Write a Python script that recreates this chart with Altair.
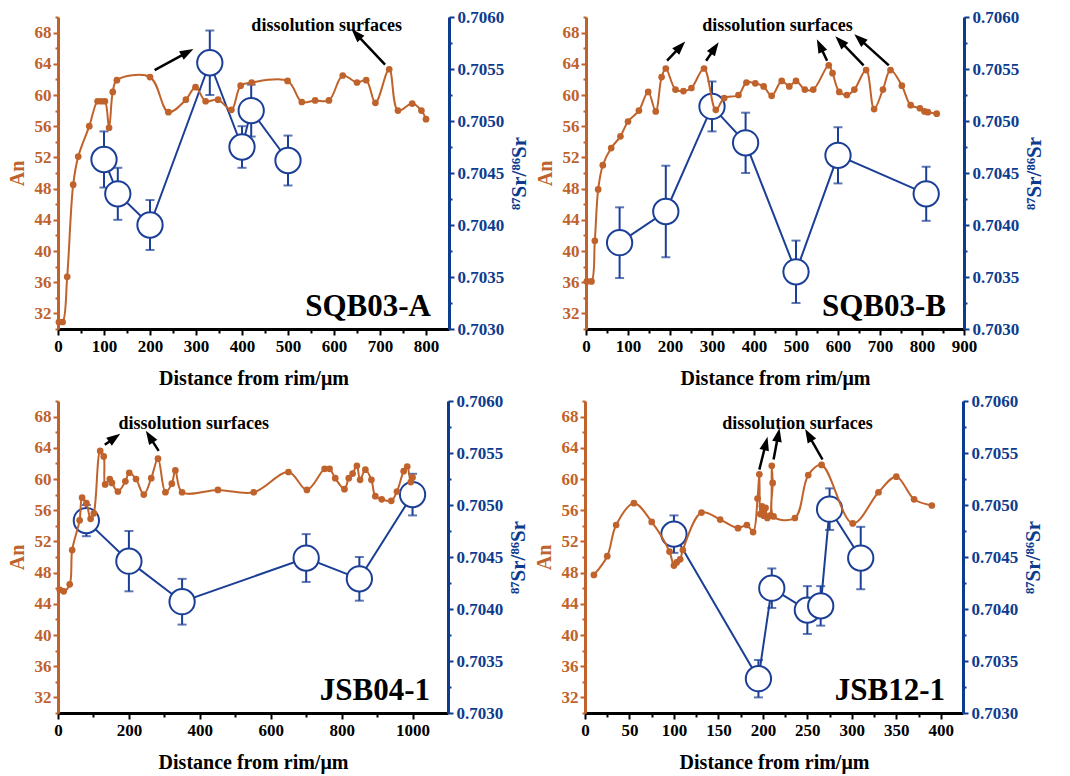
import math
import altair as alt
import pandas as pd

# ---------------- data ----------------
A_an_x = [2, 10, 20, 33, 44, 68, 86, 94, 102, 111, 119, 128, 200, 240, 278, 299, 321, 348, 377, 397,
          421, 499, 530, 559, 589, 619, 650, 670, 690, 720, 739, 770, 790, 800]
A_an_y = [30.9, 30.9, 36.7, 48.5, 52.1, 56.0, 59.2, 59.2, 59.2, 55.8, 60.4, 61.9, 62.3, 57.8, 59.4, 61.0,
          59.2, 59.4, 58.1, 61.2, 61.6, 61.8, 59.1, 59.3, 59.3, 62.5, 61.6, 61.9, 59.0, 63.3, 58.0, 58.9,
          58.0, 56.9]
A_sr_x = [100, 130, 200, 330, 400, 420, 500]
A_sr_y = [0.70463, 0.70430, 0.70400, 0.70556, 0.70475, 0.70510, 0.70462]
A_sr_e = [0.00027, 0.00025, 0.00024, 0.00031, 0.00020, 0.00025, 0.00024]

B_an_x = [2, 13, 21, 29, 40, 60, 82, 100, 126, 148, 166, 180, 190, 213, 232, 251, 281, 309, 329, 363,
          382, 403, 423, 442, 466, 484, 500, 521, 541, 578, 587, 603, 621, 639, 667, 686, 707, 725, 752,
          773, 795, 806, 814, 835]
B_an_y = [36.1, 36.1, 41.3, 47.9, 51.0, 53.2, 54.7, 56.6, 58.0, 60.4, 57.9, 62.3, 63.4, 60.7, 60.5, 60.9,
          63.4, 58.1, 59.6, 60.0, 61.6, 61.5, 61.1, 59.9, 61.8, 61.1, 61.8, 60.7, 60.7, 63.8, 62.8, 60.4,
          60.0, 60.7, 63.2, 58.2, 60.7, 63.2, 61.2, 58.7, 58.3, 57.9, 57.8, 57.6]
B_sr_x = [80, 190, 300, 380, 500, 600, 810]
B_sr_y = [0.70383, 0.70413, 0.70514, 0.70479, 0.70355, 0.70467, 0.70430]
B_sr_e = [0.00034, 0.00044, 0.00024, 0.00029, 0.00030, 0.00027, 0.00026]

C_an_x = [5, 16, 33, 40, 61, 68, 80, 92, 101, 119, 129, 133, 146, 152, 169, 190, 201, 220, 242, 263,
          282, 303, 321, 331, 350, 451, 552, 650, 702, 752, 766, 782, 808, 820, 831, 843, 852, 867, 884,
          895, 913, 940, 956, 975, 985, 995, 1000]
C_an_y = [45.8, 45.6, 46.5, 50.9, 54.7, 57.6, 56.9, 54.9, 55.6, 63.6, 62.9, 59.3, 60.0, 59.5, 58.4, 59.7,
          60.8, 60.0, 58.0, 60.1, 62.6, 58.3, 59.4, 61.1, 58.3, 58.6, 58.3, 60.9, 58.6, 61.3, 61.3, 60.1,
          58.7, 60.1, 60.7, 61.7, 59.9, 61.2, 59.9, 57.8, 57.4, 57.2, 58.4, 61.0, 61.6, 59.6, 60.2]
C_sr_x = [80, 200, 350, 700, 850, 1000]
C_sr_y = [0.70485, 0.70446, 0.70407, 0.70449, 0.70429, 0.70510]
C_sr_e = [0.00015, 0.00029, 0.00022, 0.00023, 0.00021, 0.00020]

D_an_x = [10, 25, 35, 55, 75, 95, 100, 103, 107, 110, 131, 152, 172, 182, 189, 194, 196, 197, 199, 201,
          203, 205, 208, 210, 211, 212, 236, 251, 266, 301, 330, 350, 370, 390]
D_an_y = [47.7, 50.1, 54.1, 56.9, 54.5, 50.7, 48.9, 49.3, 49.7, 50.9, 55.7, 54.8, 53.7, 54.1, 53.2, 57.5,
          60.6, 55.5, 56.5, 55.3, 56.3, 55.0, 55.3, 61.7, 59.5, 55.2, 55.0, 60.5, 61.8, 54.3, 58.3, 60.3,
          57.4, 56.6]
D_sr_x = [100, 195, 210, 250, 265, 275, 310]
D_sr_y = [0.70472, 0.70333, 0.70420, 0.70399, 0.70403, 0.70496, 0.70449]
D_sr_e = [0.00018, 0.00018, 0.00019, 0.00023, 0.00019, 0.00020, 0.00030]

# annotation arrows (start x, start An, end x, end An) in data units
A_arrows = [(210, 63.2, 279, 65.4), (711, 63.9, 650, 67.7)]
B_arrows = [(193, 64.4, 223, 66.1), (286, 64.4, 305, 65.9), (574, 64.4, 558, 66.2),
            (661, 63.8, 607, 66.8), (721, 63.8, 653, 67.1)]
C_arrows = [(132, 64.4, 157, 65.2), (284, 63.6, 260, 65.3)]
D_arrows = [(196, 61.2, 203, 64.4), (212, 62.5, 217, 65.5), (267, 62.5, 252, 65.5)]
ANNOT = "dissolution surfaces"
A_text = (584, 68.8)
B_text = (456, 68.8)
C_text = (383, 67.0)
D_text = (239, 67.0)

# ---------------- styling ----------------
ORANGE = "#C0622B"
BLUE = "#1B3F96"
BLUE_AX = "#0D3B8E"
FONT = "Liberation Serif"
LBL = 17
H = 312
AN_MIN, AN_MAX = 30, 70
SR_MIN, SR_MAX = 0.7030, 0.7060
HEAD = "M0,-1L0.6,0.7L-0.6,0.7Z"


def make_panel(name, xmax, tick_max, major, minor, W, an_x, an_y, sr_x, sr_y, sr_e, arrows, tpos):
    xs = alt.Scale(domain=[0, xmax], nice=False, zero=False)
    ans = alt.Scale(domain=[AN_MIN, AN_MAX], nice=False, zero=False)
    srs = alt.Scale(domain=[SR_MIN, SR_MAX], nice=False, zero=False)

    xvals = list(range(0, tick_max + 1, minor))
    xaxis = alt.Axis(
        values=xvals, format="d", labelExpr=f"datum.value % {major} === 0 ? datum.label : ''",
        tickSize={"condition": {"test": f"datum.value % {major} === 0", "value": 6}, "value": 4},
        domainColor="black", domainWidth=3, tickColor="black", tickWidth=2,
        labelColor="black", labelFont=FONT, labelFontSize=LBL, labelFontWeight="bold",
        labelOverlap=False, labelFlush=False, labelPadding=3,
        title="Distance from rim/μm", titleFont=FONT, titleFontSize=20, titleFontWeight="bold",
        titleColor="black", titlePadding=14, grid=False)
    anaxis = alt.Axis(
        orient="left", values=list(range(AN_MIN, AN_MAX + 1, 2)),
        labelExpr="(datum.value - 32) % 4 === 0 ? datum.label : ''",
        tickSize={"condition": {"test": "(datum.value - 32) % 4 === 0", "value": 5}, "value": 3},
        domainColor=ORANGE, domainWidth=3, tickColor=ORANGE, tickWidth=2,
        labelColor=ORANGE, labelFont=FONT, labelFontSize=LBL, labelFontWeight="bold",
        labelOverlap=False, labelPadding=2,
        title="An", titleFont=FONT, titleFontSize=20, titleFontWeight="bold",
        titleColor=ORANGE, titlePadding=7, grid=False)
    srvals = [round(SR_MIN + i * 0.00025, 5) for i in range(13)]
    sraxis = alt.Axis(
        orient="right", values=srvals, format=".4f",
        labelExpr="abs(datum.value*2000 - round(datum.value*2000)) < 0.01 ? datum.label : ''",
        tickSize={"condition": {"test": "abs(datum.value*2000 - round(datum.value*2000)) < 0.01",
                                "value": 5}, "value": 3},
        domainColor=BLUE_AX, domainWidth=3, tickColor=BLUE_AX, tickWidth=2,
        labelColor=BLUE_AX, labelFont=FONT, labelFontSize=LBL, labelFontWeight="bold",
        labelOverlap=False, labelPadding=3,
        title="⁸⁷Sr/⁸⁶Sr", titleFont=FONT, titleFontSize=21, titleFontWeight="bold",
        titleColor=BLUE_AX, titlePadding=5, titleAngle=270, titleBaseline="top", grid=False)

    X = alt.X("x:Q", scale=xs, axis=xaxis)

    df_sr = pd.DataFrame({"x": sr_x, "sr": sr_y, "err": sr_e})
    df_sr["lo"] = df_sr["sr"] - df_sr["err"]
    df_sr["hi"] = df_sr["sr"] + df_sr["err"]

    sr_line = alt.Chart(df_sr).mark_line(color=BLUE, strokeWidth=2).encode(
        X, alt.Y("sr:Q", scale=srs, axis=sraxis))
    sr_rule = alt.Chart(df_sr).mark_rule(color=BLUE, strokeWidth=2).encode(
        X, alt.Y("lo:Q", scale=srs, axis=sraxis), alt.Y2("hi:Q"))
    cap_lo = alt.Chart(df_sr).mark_tick(color=BLUE, orient="horizontal", size=9, thickness=2).encode(
        X, alt.Y("lo:Q", scale=srs, axis=sraxis))
    cap_hi = alt.Chart(df_sr).mark_tick(color=BLUE, orient="horizontal", size=9, thickness=2).encode(
        X, alt.Y("hi:Q", scale=srs, axis=sraxis))
    sr_circ = alt.Chart(df_sr).mark_circle(fill="white", stroke=BLUE, strokeWidth=2, size=640,
                                           opacity=1, fillOpacity=1).encode(
        X, alt.Y("sr:Q", scale=srs, axis=sraxis))
    sr_group = alt.layer(sr_line, sr_rule, cap_lo, cap_hi, sr_circ)

    df_an = pd.DataFrame({"x": an_x, "an": an_y, "i": list(range(len(an_x)))})
    YA = alt.Y("an:Q", scale=ans, axis=anaxis)
    an_line = alt.Chart(df_an).mark_line(color=ORANGE, strokeWidth=2, interpolate="catmull-rom").encode(
        X, YA, order="i:Q")
    an_pts = alt.Chart(df_an).mark_circle(color=ORANGE, size=45, opacity=1).encode(X, YA)

    sx = W / xmax
    sy = H / (AN_MAX - AN_MIN)
    rows = []
    for (x1, a1, x2, a2) in arrows:
        ang = math.degrees(math.atan2((x2 - x1) * sx, (a2 - a1) * sy)) % 360
        rows.append({"x": x1, "an": a1, "x2": x2, "an2": a2, "angle": ang})
    df_arr = pd.DataFrame(rows)
    arr_rule = alt.Chart(df_arr).mark_rule(color="black", strokeWidth=2.5).encode(
        X, YA, alt.X2("x2:Q"), alt.Y2("an2:Q"))
    arr_head = alt.Chart(df_arr).mark_point(shape=HEAD, filled=True, color="black", size=260,
                                            opacity=1).encode(
        alt.X("x2:Q", scale=xs, axis=xaxis), alt.Y("an2:Q", scale=ans, axis=anaxis),
        angle=alt.Angle("angle:Q", scale=None))

    df_txt = pd.DataFrame({"x": [tpos[0]], "an": [tpos[1]], "t": [ANNOT]})
    txt = alt.Chart(df_txt).mark_text(font=FONT, fontSize=18, fontWeight="bold", color="black",
                                      baseline="middle").encode(X, YA, text="t:N")
    df_lab = pd.DataFrame({"t": [name]})
    lab = alt.Chart(df_lab).mark_text(font=FONT, fontSize=31, fontWeight="bold", color="black",
                                      align="right", baseline="alphabetic").encode(
        x=alt.value(W - 18), y=alt.value(H - 13), text="t:N")
    an_group = alt.layer(an_line, an_pts, arr_rule, arr_head, txt, lab)

    return alt.layer(sr_group, an_group).resolve_scale(y="independent").properties(width=W, height=H)


pA = make_panel("SQB03-A", 850, 800, 100, 50, 391, A_an_x, A_an_y, A_sr_x, A_sr_y, A_sr_e, A_arrows, A_text)
pB = make_panel("SQB03-B", 900, 900, 100, 50, 378, B_an_x, B_an_y, B_sr_x, B_sr_y, B_sr_e, B_arrows, B_text)
pC = make_panel("JSB04-1", 1100, 1000, 200, 100, 390, C_an_x, C_an_y, C_sr_x, C_sr_y, C_sr_e, C_arrows, C_text)
pD = make_panel("JSB12-1", 425, 400, 50, 25, 378, D_an_x, D_an_y, D_sr_x, D_sr_y, D_sr_e, D_arrows, D_text)

row1 = alt.hconcat(pA, pB, spacing=5)
row2 = alt.hconcat(pC, pD, spacing=5)
chart = alt.vconcat(row1, row2, spacing=4).properties(
    padding={"left": 7, "top": 8, "right": 5, "bottom": 2},
    background="white",
).configure_view(stroke=None)

chart.save("out.html", embed_options={"renderer": "svg", "actions": False})
